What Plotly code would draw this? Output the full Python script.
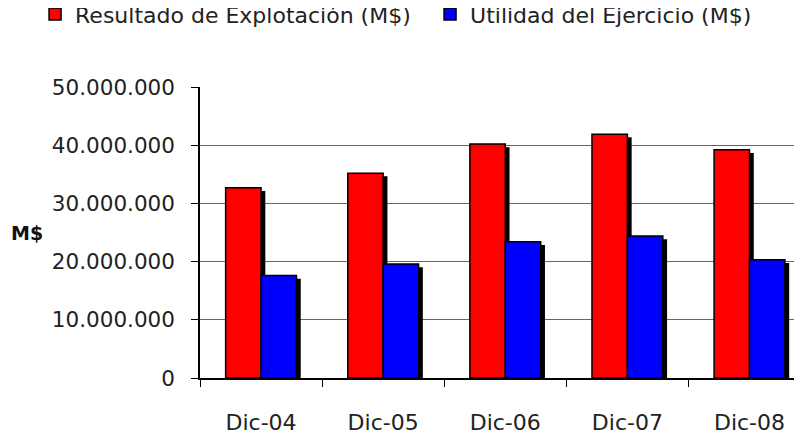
import plotly.graph_objects as go

categories = ["Dic-04", "Dic-05", "Dic-06", "Dic-07", "Dic-08"]
resultado = [32700000, 35200000, 40200000, 41900000, 39200000]
utilidad = [17600000, 19600000, 23400000, 24400000, 20300000]
series_names = ["Resultado de Explotación (M$)", "Utilidad del Ejercicio (M$)"]
y_ticks = [0, 10000000, 20000000, 30000000, 40000000, 50000000]
y_tick_labels = ["0", "10.000.000", "20.000.000", "30.000.000", "40.000.000", "50.000.000"]

FONT = "DejaVu Sans"
W = 0.29
SH_X = 0.035
SH_DROP = 550000

fig = go.Figure()
for vals, off in [(resultado, -W), (utilidad, 0.0)]:
    fig.add_trace(go.Bar(
        x=categories, y=vals, base=[-SH_DROP] * len(vals),
        offset=off + SH_X, width=W,
        marker=dict(color="black", line=dict(width=0)),
        showlegend=False, hoverinfo="skip"))
for vals, off, color, name in [(resultado, -W, "#ff0000", series_names[0]),
                               (utilidad, 0.0, "#0000ff", series_names[1])]:
    fig.add_trace(go.Bar(
        x=categories, y=vals, offset=off, width=W, name=name,
        marker=dict(color=color, line=dict(color="black", width=1.5))))

# page body has an 8px margin, so the figure is 794x426 placed at (8, 8)
fig.update_layout(
    width=794, height=426,
    margin=dict(l=192, r=0, t=79, b=56, autoexpand=False),
    barmode="overlay",
    paper_bgcolor="white", plot_bgcolor="white",
    font=dict(family=FONT, size=21, color="#222"),
    legend=dict(orientation="h", xref="paper", yref="paper",
                x=-0.274, xanchor="left", y=1.25, yanchor="middle",
                entrywidth=350, entrywidthmode="pixels",
                font=dict(size=22, color="#222"), itemwidth=30, traceorder="normal"),
    xaxis=dict(type="category", range=[-0.5, 4.43], tickson="boundaries",
               ticks="outside", ticklen=7, tickcolor="black",
               showline=True, linecolor="black", linewidth=1.5,
               showgrid=False, ticklabelstandoff=24, automargin=False,
               tickfont=dict(size=22)),
    yaxis=dict(range=[0, 50000000], tickvals=y_ticks, ticktext=y_tick_labels,
               ticks="outside", ticklen=7, tickcolor="black",
               showline=True, linecolor="black", linewidth=1.5,
               showgrid=True, gridcolor="#666", gridwidth=1.2,
               zeroline=False, ticklabelstandoff=12, automargin=False,
               tickfont=dict(size=21.5)),
    annotations=[dict(text="<b>M$</b>", xref="paper", yref="paper",
                      x=-0.287, y=0.498, xanchor="center", yanchor="middle",
                      showarrow=False, font=dict(size=19, color="#111"))],
)

fig.write_html("out.html")
